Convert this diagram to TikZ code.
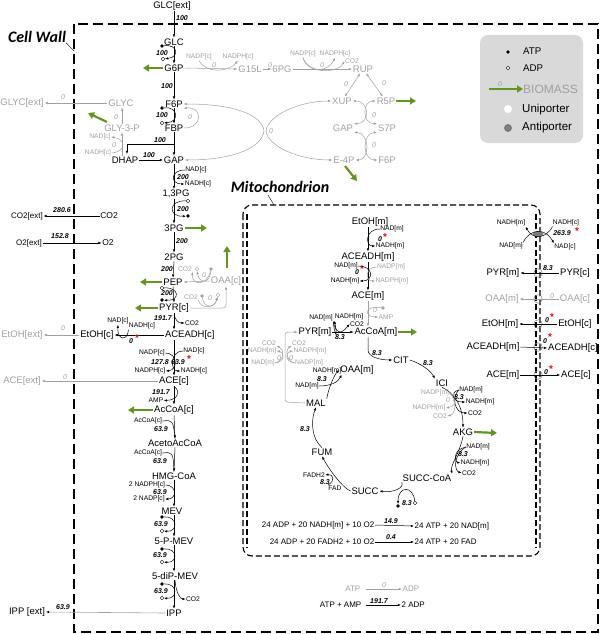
\documentclass[tikz,border=0pt]{standalone}
\usepackage{fontspec}
\setmainfont{Liberation Sans}
\newfontfamily\titlefont{Carlito}
\usetikzlibrary{arrows.meta,shapes.geometric}
\definecolor{lgray}{RGB}{160,160,160}
\definecolor{bgreen}{RGB}{98,150,30}
\definecolor{legfill}{RGB}{217,217,217}
\definecolor{antig}{RGB}{125,125,125}
\begin{document}
\begin{tikzpicture}[x=1pt,y=-1pt,
  >={Latex[length=3.2pt,width=2.4pt]},
  met/.style={font=\fontsize{9.5}{10}\selectfont, inner sep=0.8pt},
  gmet/.style={met,text=lgray},
  cof/.style={font=\fontsize{6.7}{7}\selectfont, inner sep=0.3pt},
  gcof/.style={cof,text=lgray},
  fl/.style={font=\fontsize{7}{7}\selectfont\bfseries\itshape, inner sep=0.3pt},
  gfl/.style={font=\fontsize{7}{7}\selectfont\itshape, text=lgray, inner sep=0.3pt},
  eq/.style={font=\fontsize{8}{8}\selectfont, inner sep=0.5pt},
  rx/.style={draw, line width=0.5pt, ->},
  grx/.style={draw=lgray, line width=0.5pt, ->},
  ln/.style={draw, line width=0.5pt},
  gln/.style={draw=lgray, line width=0.5pt},
  bio/.style={draw=bgreen, line width=2.2pt, -{Triangle[length=6pt,width=7pt]}},
  atpd/.style={circle, fill=black, inner sep=0pt, minimum size=3.6pt},
  adpd/.style={circle, draw=black, fill=white, line width=0.4pt, inner sep=0pt, minimum size=3.6pt},
  gatpd/.style={circle, fill=lgray, inner sep=0pt, minimum size=3.6pt},
  gadpd/.style={circle, draw=lgray, fill=white, line width=0.4pt, inner sep=0pt, minimum size=3.6pt},
  ast/.style={text=red, font=\fontsize{10}{10}\selectfont\bfseries, inner sep=0pt},
  uni/.style={circle, draw=gray, line width=0.5pt, inner sep=0pt, minimum size=8.5pt},
  wall/.style={line width=1.4pt, dash pattern=on 10pt off 5pt},
  mwall/.style={line width=1.1pt, dash pattern=on 6pt off 3pt},
  title/.style={font=\titlefont\fontsize{16}{16}\selectfont\bfseries\itshape, inner sep=0pt},
  lt/.style={font=\fontsize{9.7}{10}\selectfont, inner sep=0pt, anchor=west},
  lt2/.style={font=\fontsize{11.5}{12}\selectfont, inner sep=0pt, anchor=west},
]
\useasboundingbox (0,0) rectangle (600,634);

% ---------------- walls and titles
\draw[wall] (74,24) rectangle (598,632);
\draw[mwall, rounded corners=9pt] (243,205) rectangle (540,556);
\draw[mwall] (247,214) -- (247,548);
\draw[mwall] (536,214) -- (536,548);
\node[title] (cwlab) at (37,37) {Cell Wall};
\coordinate (cwpt) at (74,51);
\draw[line width=0.4pt] (cwlab.south east) -- (cwpt);
\node[title] (mitlab) at (280,187) {Mitochondrion};
\coordinate (mlp1) at (268,195);
\coordinate (mitpt) at (274,205);
\draw[line width=0.4pt] (mlp1) -- (mitpt);

% ---------------- legend
\node[fill=legfill, rounded corners=8pt, minimum width=103pt, minimum height=108pt, inner sep=0pt] (leg) at (531.5,89) {};
\node[atpd] (lga) at (508,52) {};
\node[lt] (lgat) at (523,51) {ATP};
\node[adpd] (lgd) at (508,68) {};
\node[lt] (lgdt) at (523,68) {ADP};
\coordinate (lgbs) at (489,89);
\node[anchor=west, font=\fontsize{12}{12}\selectfont, text=lgray, inner sep=0pt] (lgbio) at (523,89) {BIOMASS};
\draw[bio, line width=1.8pt] (lgbs) -- (lgbio.west);
\node[gfl] (lgz) at (500,84) {0};
\node[circle, fill=white, minimum size=8pt, inner sep=0pt] (lgu) at (508,109) {};
\node[lt2] (lgut) at (522,110) {Uniporter};
\node[circle, fill=antig, minimum size=8pt, inner sep=0pt] (lgap) at (508,128) {};
\node[lt2] (lgapt) at (522,128) {Antiporter};

% ---------------- glycolysis column
\node[met] (glcext) at (172,6) {GLC[ext]};
\node[met] (glc) at (174,42) {GLC};
\node[met] (g6p) at (174,68) {G6P};
\node[met] (f6p) at (174,104) {F6P};
\node[met] (fbp) at (174,128) {FBP};
\node[met] (gap) at (174,160) {GAP};
\node[met] (dhap) at (125,160) {DHAP};
\node[met] (bpg) at (176,194) {1,3PG};
\node[met] (pg3) at (174,228) {3PG};
\node[met] (pg2) at (174,257) {2PG};
\node[met] (pep) at (173,282) {PEP};
\node[met] (pyrc) at (174,308) {PYR[c]};
\node[met,anchor=west] (aceadhc) at (164,335) {ACEADH[c]};
\node[met] (etohc) at (97,335) {EtOH[c]};
\node[met] (acec) at (174,381) {ACE[c]};
\node[met] (accoac) at (174,410) {AcCoA[c]};
\node[met] (acetoac) at (175,443) {AcetoAcCoA};
\node[met] (hmg) at (174,476) {HMG-CoA};
\node[met] (mev) at (172,511) {MEV};
\node[met] (pmev) at (174,541) {5-P-MEV};
\node[met] (ppmev) at (175,576) {5-diP-MEV};
\node[met] (ipp) at (174,613) {IPP};

\draw[rx] (glc.north |- glcext.south) -- (glc.north);
\node[fl] (f01) at (182,18) {100};
\draw[rx] (glc.south) -- (g6p.north);
\node[atpd] (atp1) at (162,46) {};
\node[adpd] (adp1) at (163,59) {};
\node[fl] (f02) at (162,53) {100};
\draw[rx] (atp1) .. controls (178,44) and (180,57) .. (adp1);
\coordinate (bg1) at (143,68);
\draw[bio] (g6p.west) -- (bg1);

\draw[rx] (g6p.south) -- (f6p.north);
\node[fl] (f03) at (167,86) {100};
\draw[rx] (f6p.south) -- (fbp.north);
\node[atpd] (atp2) at (162,108) {};
\node[fl] (f04) at (162,115) {100};
\node[adpd] (adp2) at (162,123) {};
\draw[rx] (atp2) .. controls (178,106) and (180,122) .. (adp2);
\draw[grx] (fbp.east) .. controls (203,128) and (203,106) .. (f6p.south east);
\node[gfl] (f05) at (190,117) {0};

\draw[rx] (fbp.south) -- (gap.north);
\coordinate (br1) at (174,144);
\coordinate (dhapin) at (127,154);
\draw[rx] (br1) -| (dhapin);
\node[fl] (f06) at (160,140) {100};
\draw[rx] (dhap.east) -- (gap.west);
\node[fl] (f07) at (149,155) {100};

% glycerol branch
\node[gmet] (gly3p) at (122,128) {GLY-3-P};
\node[gmet] (glyc) at (121,103) {GLYC};
\node[gmet] (glycext) at (22,103) {GLYC[ext]};
\draw[grx] (glyc.west) -- (glycext.east);
\node[gfl] (f08) at (63,97) {0};
\draw[grx] (gly3p.north) -- (gly3p.north |- glyc.south);
\node[gfl] (f09) at (116,117) {0};
\draw[grx] (gly3p.south |- dhap.north) -- (gly3p.south);
\node[gcof] (nadc0) at (100,137) {NAD[c]};
\node[gcof] (nadhc0) at (98,153) {NADH[c]};
\node[gfl] (f10) at (114,145) {0};
\draw[grx] (nadhc0.east) .. controls (126,152) and (126,139) .. (nadc0.east);
\coordinate (bg2s) at (107,122);
\coordinate (bg2e) at (88,113);
\draw[bio] (bg2s) -- (bg2e);

% pentose phosphate
\node[gmet] (g15l) at (250,69) {G15L};
\node[gmet] (pg6) at (282,69) {6PG};
\node[gmet] (rup) at (363,69) {RUP};
\node[gmet] (xup) at (342,101) {XUP};
\node[gmet] (r5p) at (386,101) {R5P};
\node[gmet] (gapg) at (343,128) {GAP};
\node[gmet] (s7p) at (387,128) {S7P};
\node[gmet] (e4p) at (344,160) {E-4P};
\node[gmet] (f6pg) at (387,160) {F6P};
\draw[grx] (g6p.east) -- (g15l.west);
\node[gcof] (nadp1) at (199,57) {NADP[c]};
\node[gcof] (nadph1) at (238,57) {NADPH[c]};
\node[gfl] (f11) at (214,65) {0};
\draw[grx] (nadp1.south) .. controls (205,73) and (228,73) .. (nadph1.south);
\draw[grx] (g15l.east) -- (pg6.west);
\node[gfl] (f12) at (270,65) {0};
\draw[grx] (pg6.east) -- (rup.west);
\node[gcof] (nadp2) at (303,54) {NADP[c]};
\node[gcof] (nadph2) at (335,54) {NADPH[c]};
\node[gcof] (co2g1) at (352,61) {CO2};
\node[gfl] (f13) at (322,65) {0};
\draw[grx] (nadp2.south) .. controls (307,73) and (328,73) .. (nadph2.south);
\draw[grx] (nadp2.south) .. controls (309,75) and (338,73) .. (co2g1.west);
\draw[grx, <->] (rup) -- (xup);
\draw[grx, <->] (rup) -- (r5p);
\node[gfl] (f14) at (346,84) {0};
\node[gfl] (f15) at (384,83) {0};
\coordinate (bg3) at (416,101);
\draw[bio] (r5p.east) -- (bg3);
\draw[grx, <->] (xup.east) .. controls (370,101) and (370,124) .. (gapg.north east);
\draw[grx, <->] (r5p.west) .. controls (362,101) and (362,124) .. (s7p.north west);
\node[gfl] (f16) at (374,115) {0};
\draw[grx, <->] (gapg.south east) .. controls (370,133) and (370,160) .. (e4p.east);
\draw[grx, <->] (s7p.south west) .. controls (362,133) and (362,160) .. (f6pg.west);
\node[gfl] (f17) at (374,145) {0};
\draw[grx, <->] (f6p.east) .. controls (235,104) and (262,115) .. (264,131) .. controls (262,147) and (235,160) .. (gap.east);
\draw[grx, <->] (xup.west) .. controls (300,101) and (268,115) .. (266,131) .. controls (268,147) and (300,160) .. (e4p.west);
\node[gfl] (f18) at (271,131) {0};
\coordinate (bg4s) at (345,166);
\coordinate (bg4e) at (357,181);
\draw[bio] (bg4s) -- (bg4e);

% lower glycolysis
\draw[rx] (gap.south) -- (gap.south |- bpg.north);
\node[cof] (nadc1) at (196,170) {NAD[c]};
\node[cof] (nadhc1) at (198,184) {NADH[c]};
\node[fl] (f19) at (183,177) {200};
\draw[rx] (nadc1.west) .. controls (170,170) and (170,184) .. (nadhc1.west);
\draw[rx] (gap.south |- bpg.south) -- (pg3.north);
\node[adpd] (adp3) at (188,201) {};
\node[atpd] (atp3) at (188,216) {};
\node[fl] (f20) at (183,209) {200};
\draw[rx] (adp3) .. controls (168,200) and (168,217) .. (atp3);
\coordinate (bg5) at (207,228);
\draw[bio] (pg3.east) -- (bg5);
\draw[rx] (pg3.south) -- (pg2.north);
\node[fl] (f21) at (182,241) {200};
\draw[rx] (pg2.south) -- (pep.north);
\node[fl] (f22) at (167,269) {200};
\coordinate (bg6) at (140,282);
\draw[bio] (pep.west) -- (bg6);
\draw[rx] (pep.south) -- (pyrc.north);
\node[adpd] (adp4) at (162,288) {};
\node[fl] (f23) at (167,293) {200};
\node[atpd] (atp4) at (162,300) {};
\draw[rx] (adp4) .. controls (180,287) and (180,301) .. (atp4);
\coordinate (bg7) at (135,308);
\draw[bio] (pyrc.west) -- (bg7);

% OAA[c]
\node[gmet] (oaac) at (226,281) {OAA[c]};
\draw[grx] (oaac.west) -- (pep.east);
\node[gcof] (co2g2) at (185,269) {CO2};
\node[gadpd] (gdp1) at (197,269) {};
\node[gatpd] (gtp1) at (211,269) {};
\node[gfl] (f24) at (204,275) {0};
\draw[grx] (gtp1) .. controls (210,284) and (199,284) .. (gdp1);
\draw[grx] (gtp1) .. controls (207,286) and (192,286) .. (co2g2.south east);
\coordinate (bg8s) at (227,268);
\coordinate (bg8e) at (227,246);
\draw[bio] (bg8s) -- (bg8e);
\draw[grx, rounded corners=3pt] (pyrc.east) -| (oaac.south);
\node[gcof] (co2g3) at (191,297) {CO2};
\node[gatpd] (gtp2) at (202,296) {};
\node[gfl] (f25) at (210,298) {0};
\node[gadpd] (gdp2) at (218,295) {};
\draw[grx] (co2g3.south east) .. controls (200,309) and (214,309) .. (gdp2);
\draw[grx] (gtp2) .. controls (204,309) and (215,308) .. (gdp2);

% PYR -> ACEADH -> ...
\draw[rx] (pyrc.south) -- (pyrc.south |- aceadhc.north);
\node[fl] (f26) at (163,318) {191.7};
\node[cof] (co2c1) at (192,323) {CO2};
\draw[rx] (pyrc.south) .. controls (175,320) and (178,323) .. (co2c1.west);
\draw[rx] (aceadhc.west) -- (etohc.east);
\node[cof] (nadc2) at (118,321) {NAD[c]};
\node[cof] (nadhc2) at (142,326) {NADH[c]};
\node[fl] (f27) at (131,341) {0};
\node[ast] (as1) at (137,338) {*};
\draw[rx] (nadhc2.south west) .. controls (128,341) and (117,341) .. (nadc2.south);
\node[gmet] (etohext) at (22,335) {EtOH[ext]};
\draw[grx] (etohc.west) -- (etohext.east);
\node[gfl] (f28) at (63,328) {0};

\draw[rx] (acec.north |- aceadhc.south) -- (acec.north);
\node[cof] (nadpc3) at (152,353) {NADP[c]};
\node[cof] (nadphc3) at (150,371) {NADPH[c]};
\node[fl] (f29) at (160,362) {127.8};
\node[cof] (nadc3) at (194,351) {NAD[c]};
\node[cof] (nadhc3) at (194,371) {NADH[c]};
\node[fl] (f30) at (178,362) {63.9};
\node[ast] (as2) at (189,359) {*};
\draw[rx] (nadpc3.east) .. controls (178,353) and (178,370) .. (nadphc3.east);
\draw[rx] (nadc3.west) .. controls (170,351) and (170,371) .. (nadhc3.west);
\node[gmet] (aceext) at (22,381) {ACE[ext]};
\draw[grx] (acec.west) -- (aceext.east);
\node[gfl] (f31) at (65,377) {0};

\draw[rx] (acec.south) -- (accoac.north);
\node[fl] (f32) at (161,392) {191.7};
\node[cof] (ampc) at (156,400.5) {AMP};
\draw[rx] (acec.south) .. controls (181,391) and (178,400) .. (ampc.east);
\coordinate (bg9) at (128,410);
\draw[bio] (accoac.west) -- (bg9);

\draw[rx] (accoac.south) -- (acetoac.north);
\node[cof] (accl1) at (148,421) {AcCoA[c]};
\node[fl] (f33) at (161,429) {63.9};
\draw[ln] (accl1.east) .. controls (173,420) .. (acetoac.north);
\draw[rx] (acetoac.south) -- (hmg.north);
\node[cof] (accl2) at (148,453) {AcCoA[c]};
\node[fl] (f34) at (160,461) {63.9};
\draw[ln] (accl2.east) .. controls (173,452) .. (hmg.north);
\draw[rx] (hmg.south) -- (hmg.south |- mev.north);
\node[cof] (nadph5) at (147,485) {2 NADPH[c]};
\node[fl] (f35) at (160,492) {63.9};
\node[cof] (nadp5) at (149,499) {2 NADP[c]};
\draw[rx] (nadph5.east) .. controls (177,485) and (177,499) .. (nadp5.east);
\draw[rx] (hmg.south |- mev.south) -- (pmev.north);
\node[atpd] (atp6) at (162,517) {};
\node[fl] (f36) at (161,524) {63.9};
\node[adpd] (adp6) at (162,531) {};
\draw[rx] (atp6) .. controls (178,516) and (178,532) .. (adp6);
\draw[rx] (pmev.south) -- (pmev.south |- ppmev.north);
\node[atpd] (atp7) at (162,549) {};
\node[fl] (f37) at (160,555) {63.9};
\node[adpd] (adp7) at (162,562) {};
\draw[rx] (atp7) .. controls (178,548) and (178,563) .. (adp7);
\draw[rx] (pmev.south |- ppmev.south) -- (ipp.north);
\node[atpd] (atp8) at (162,584) {};
\node[fl] (f38) at (161,591) {63.9};
\node[adpd] (adp8) at (162,598) {};
\draw[rx] (atp8) .. controls (178,583) and (178,599) .. (adp8);
\node[cof] (co2c4) at (193,599) {CO2};
\draw[rx] (ppmev.south) .. controls (176,592) and (180,599) .. (co2c4.west);
\node[met] (ippext) at (27,612) {IPP [ext]};
\draw[draw=lgray, line width=0.6pt, -{Latex[length=3.2pt,width=2.4pt,color=black]}] (ipp.west) -- (ippext.east);
\node[fl] (f39) at (63,607) {63.9};

% CO2 / O2
\node[eq] (co2ext) at (27,216) {CO2[ext]};
\node[font=\fontsize{8.5}{9}\selectfont, inner sep=0.5pt] (co2) at (109,216) {CO2};
\draw[rx] (co2.west) -- (co2ext.east);
\node[fl] (f40) at (62,210) {280.6};
\node[eq] (o2ext) at (29,243) {O2[ext]};
\node[font=\fontsize{8.5}{9}\selectfont, inner sep=0.5pt] (o2) at (108,243) {O2};
\draw[rx] (o2ext.east) -- (o2.west);
\node[fl] (f41) at (60,236) {152.8};

% ---------------- mitochondrion
\node[met] (etohm) at (370,222) {EtOH[m]};
\node[met] (aceadhm) at (368,257) {ACEADH[m]};
\node[met] (acem) at (368,296) {ACE[m]};
\node[met] (accoam) at (376,332) {AcCoA[m]};
\node[met] (pyrm) at (315,332) {PYR[m]};
\node[met] (cit) at (401,360) {CIT};
\node[met] (oaam) at (357,370) {OAA[m]};
\node[met] (ici) at (442,383) {ICI};
\node[met] (akg) at (463,432) {AKG};
\node[met] (succoa) at (427,478) {SUCC-CoA};
\node[met] (succ) at (365,491) {SUCC};
\node[met] (fum) at (322,452) {FUM};
\node[met] (mal) at (316,403) {MAL};

\draw[rx] (aceadhm.north |- etohm.south) -- (aceadhm.north);
\node[cof] (nadm1) at (392,229) {NAD[m]};
\node[fl] (f42) at (380,239) {0};
\node[ast] (as3) at (385,237) {*};
\node[cof] (nadhm1) at (390,246) {NADH[m]};
\draw[rx] (nadm1.west) .. controls (365,229) and (365,246) .. (nadhm1.west);

\draw[rx] (aceadhm.south) -- (acem.north);
\node[cof] (nadm2) at (346,266) {NAD[m]};
\node[fl] (f43) at (357,272) {0};
\node[ast] (as4) at (362,269) {*};
\node[cof] (nadhm2) at (345,281) {NADH[m]};
\draw[rx] (nadm2.east) .. controls (374,266) and (374,281) .. (nadhm2.east);
\node[gcof] (nadpm2) at (391,267) {NADP[m]};
\node[gcof] (nadphm2) at (392,281) {NADPH[m]};
\draw[grx] (nadpm2.west) .. controls (365,267) and (365,281) .. (nadphm2.west);

\draw[grx] (acem.south) -- (acem.south |- accoam.north);
\node[gatpd] (gatp3) at (383,308) {};
\node[gfl] (f44) at (375,310) {0};
\node[gcof] (ampm) at (386,317) {AMP};
\draw[grx] (gatp3) .. controls (364,305) and (364,317) .. (ampm.west);

\draw[rx] (pyrm.east) -- (accoam.west);
\node[cof] (nadm3) at (321,318) {NAD[m]};
\node[cof] (nadhm3) at (349,317) {NADH[m]};
\node[cof] (co2m3) at (357,324) {CO2};
\node[fl] (f45) at (340,337) {8.3};
\draw[rx] (nadm3.south east) .. controls (335,338) and (338,338) .. (nadhm3.south west);
\draw[rx] (nadm3.south east) .. controls (337,338) and (344,331) .. (co2m3.west);
\coordinate (accbend) at (368,350);
\draw[rx] (acem.south |- accoam.south) -- (accbend) .. controls (368,357) and (380,360) .. (cit.west);
\node[fl] (f46) at (377,353) {8.3};
\coordinate (bg10) at (417,332);
\draw[bio] (accoam.east) -- (bg10);

\coordinate (mp1) at (285,402);
\coordinate (mp2) at (285,332);
\draw[grx, rounded corners=3pt] (mal.west) -- (mp1) -- (mp2) -- (pyrm.west);
\node[gcof] (co2m4) at (269,343) {CO2};
\node[gcof] (nadhm4) at (262,351) {NADH[m]};
\node[gcof] (nadm4) at (263,363) {NAD[m]};
\node[gfl] (f47) at (279,358) {0};
\node[gcof] (co2m5) at (299,343) {CO2};
\node[gcof] (nadphm4) at (310,351) {NADPH[m]};
\node[gfl] (f48) at (291,358) {0};
\node[gcof] (nadpm4) at (309,363) {NADP[m]};
\draw[grx] (nadm4.east) .. controls (285,362) and (285,352) .. (nadhm4.east);
\draw[grx] (nadm4.east) .. controls (285,360) and (284,349) .. (co2m4.south east);
\draw[grx] (nadpm4.west) .. controls (285,362) and (285,352) .. (nadphm4.west);
\draw[grx] (nadpm4.west) .. controls (285,360) and (286,349) .. (co2m5.south west);

\draw[rx] (mal.north east) .. controls (328,390) and (334,375) .. (oaam.west);
\node[cof] (nadm5) at (307,386) {NAD[m]};
\node[cof] (nadhm5) at (327,371) {NADH[m]};
\node[fl] (f49) at (322,379) {8.3};
\draw[rx] (nadm5.east) .. controls (331,386) and (338,382) .. (nadhm5.south east);

% TCA
\draw[rx] (cit.east) .. controls (420,363) and (430,370) .. (ici.north west);
\node[fl] (f50) at (428,363) {8.3};
\draw[rx] (ici.south) .. controls (453,392) and (463,405) .. (akg.north);
\node[cof] (nadm6) at (471,390) {NAD[m]};
\node[fl] (f51) at (459,397) {8.3};
\node[cof] (nadhm6) at (480,402) {NADH[m]};
\node[cof] (co2m6) at (475,413) {CO2};
\draw[rx] (nadm6.west) .. controls (450,392) and (452,402) .. (nadhm6.west);
\draw[rx] (nadm6.west) .. controls (451,398) and (455,413) .. (co2m6.west);
\node[gcof] (nadpm6) at (435,393) {NADP[m]};
\node[gfl] (f52) at (448,400) {0};
\node[gcof] (nadphm6) at (429,408) {NADPH[m]};
\node[gcof] (co2m7) at (440,416) {CO2};
\draw[grx] (nadpm6.east) .. controls (457,394) and (457,406) .. (nadphm6.east);
\draw[grx] (nadpm6.east) .. controls (457,400) and (456,414) .. (co2m7.east);
\coordinate (bg11) at (497,433);
\draw[bio] (akg.east) -- (bg11);
\draw[rx] (akg.south) .. controls (460,452) and (450,466) .. (succoa.north east);
\node[cof] (nadm7) at (478,447) {NAD[m]};
\node[fl] (f53) at (463,454) {8.3};
\node[cof] (nadhm7) at (475,463) {NADH[m]};
\node[cof] (co2m8) at (469,473) {CO2};
\draw[rx] (nadm7.west) .. controls (452,450) and (455,462) .. (nadhm7.west);
\draw[rx] (nadm7.west) .. controls (452,456) and (455,471) .. (co2m8.west);
\draw[rx] (succoa.south west) .. controls (405,488) and (392,493) .. (succ.east);
\node[adpd] (adp9) at (415,503) {};
\node[fl] (f54) at (407,503) {8.3};
\node[atpd] (atp9) at (398,506) {};
\draw[rx] (adp9) .. controls (413,485) and (398,486) .. (atp9);
\draw[rx] (succ.west) .. controls (343,488) and (330,471) .. (fum.south);
\node[cof] (fadm) at (335,488) {FAD};
\node[fl] (f55) at (325,482) {8.3};
\node[cof] (fadh2m) at (314,475) {FADH2};
\draw[rx] (fadm.north west) .. controls (336,480) and (333,474) .. (fadh2m.east);
\draw[rx] (fum.north) .. controls (311,438) and (311,420) .. (mal.south);
\node[fl] (f56) at (305,429) {8.3};

% oxidative phosphorylation
\node[eq, anchor=east] (eq1l) at (375,525) {24 ADP + 20 NADH[m] + 10 O2};
\node[eq, anchor=west] (eq1r) at (414,526) {24 ATP + 20 NAD[m]};
\draw[rx] (eq1l.east) -- (eq1r.west);
\node[fl] (f57) at (391,521) {14.9};
\node[eq, anchor=east] (eq2l) at (375,542) {24 ADP + 20 FADH2 + 10 O2};
\node[eq, anchor=west] (eq2r) at (414,542) {24 ATP + 20 FAD};
\draw[rx] (eq2l.east) -- (eq2r.west);
\node[fl] (f58) at (391,537) {0.4};

% ATP equations in cytosol
\node[eq, text=lgray, anchor=east] (atpg) at (361,589) {ATP};
\node[eq, text=lgray, anchor=west] (adpg) at (402,589) {ADP};
\draw[grx, shorten <=5pt] (atpg.east) -- (adpg.west);
\node[gfl] (f59) at (384,585) {0};
\node[eq, anchor=east] (atpamp) at (362,605) {ATP + AMP};
\node[eq, anchor=west] (adp2x) at (401,605) {2 ADP};
\draw[rx, shorten <=4pt] (atpamp.east) -- (adp2x.west);
\node[fl] (f60) at (379,601) {191.7};

% ---------------- transporters
\node[ellipse, fill=antig, minimum width=11pt, minimum height=6pt, inner sep=0pt] (anti) at (538,234) {};
\node[cof] (nadhm8) at (511,223) {NADH[m]};
\node[cof] (nadm8) at (511,246) {NAD[m]};
\node[cof] (nadhc8) at (566,223) {NADH[c]};
\node[cof] (nadc8) at (565,247) {NAD[c]};
\draw[rx] (nadhc8.south west) .. controls (545,240) and (532,239) .. (nadhm8.south east);
\draw[rx] (nadm8.north east) .. controls (530,228) and (546,228) .. (nadc8.north west);
\node[fl] (f61) at (562,233) {263.9};
\node[ast] (as5) at (577,231) {*};

\node[met] (pyrm2) at (503,273) {PYR[m]};
\node[met] (pyrc2) at (575,273) {PYR[c]};
\node[uni] (u1) at (538,273) {};
\draw[rx] (pyrc2.west) -- (pyrm2.east);
\node[fl] (f62) at (548,268) {8.3};

\node[gmet] (oaam2) at (502,299) {OAA[m]};
\node[gmet] (oaac2) at (575,299) {OAA[c]};
\node[uni] (u2) at (538,299) {};
\draw[grx] (oaac2.west) -- (oaam2.east);
\node[gfl] (f63) at (552,296) {0};

\node[met] (etohm2) at (500,324) {EtOH[m]};
\node[met] (etohc2) at (575,324) {EtOH[c]};
\node[uni] (u3) at (538,324) {};
\draw[rx] (etohc2.west) -- (etohm2.east);
\node[fl] (f64) at (547,320) {0};
\node[ast] (as6) at (552,317) {*};

\node[met] (aceadhm2) at (493,347) {ACEADH[m]};
\node[met] (aceadhc2) at (573,348) {ACEADH[c]};
\node[uni] (u4) at (538,347) {};
\draw[rx] (aceadhm2.east) -- (aceadhc2.west);
\node[fl] (f65) at (545,341) {0};
\node[ast] (as7) at (550,337) {*};

\node[met] (acem2) at (503,375) {ACE[m]};
\node[met] (acec2) at (576,375) {ACE[c]};
\node[uni] (u5) at (538,375) {};
\draw[rx] (acem2.east) -- (acec2.west);
\node[fl] (f66) at (546,372) {0};
\node[ast] (as8) at (551,369) {*};
\end{tikzpicture}
\end{document}
